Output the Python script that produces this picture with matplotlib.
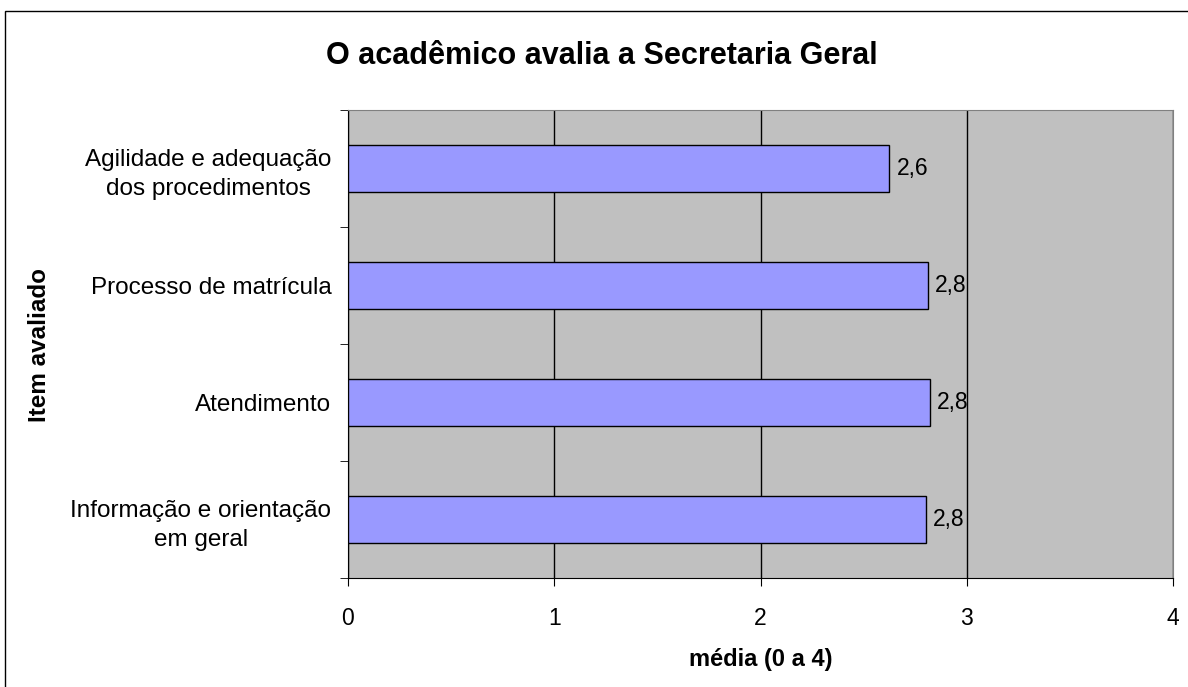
import matplotlib; matplotlib.use("Agg")
import matplotlib.pyplot as plt
from matplotlib.patches import Rectangle

plt.rcParams["font.family"] = ["Liberation Sans", "DejaVu Sans"]

items = ["Informação e orientação\nem geral", "Atendimento",
         "Processo de matrícula", "Agilidade e adequação\ndos procedimentos"]
values = [2.80, 2.82, 2.81, 2.625]
labels = ["2,8", "2,8", "2,8", "2,6"]
xticks = [0, 1, 2, 3, 4]

W, H = 1188, 687
fig = plt.figure(figsize=(W / 100, H / 100), dpi=100)
ax = fig.add_axes([348 / W, 1 - 578 / H, (1173 - 348) / W, (578 - 110) / H])
ax.set_facecolor("#C0C0C0")

# outer chart frame (only left/top edges fall inside the picture)
fig.patches.append(Rectangle((5 / W, -0.05), 1.2, 1 - 11 / H + 0.05,
                             transform=fig.transFigure, fill=False,
                             edgecolor="black", lw=1.0))

ypos = list(range(len(items)))
ax.barh(ypos, values, height=0.4, color="#9999FF", edgecolor="black", lw=1.0, zorder=3)
for y, v, t in zip(ypos, values, labels):
    ax.text(v + 0.035, y, t, va="center", ha="left", fontsize=16.5, zorder=4)

ax.set_xlim(0, 4)
ax.set_ylim(-0.5, len(items) - 0.5)
ax.set_xticks(xticks)
ax.set_xticklabels([str(x) for x in xticks], fontsize=16.5)
ax.tick_params(axis="x", length=6, pad=15, color="black")
ax.xaxis.grid(True, color="black", lw=1.0, zorder=1)
ax.set_axisbelow(True)

ax.set_yticks(ypos)
ax.set_yticklabels(items, fontsize=17.5, ha="right", multialignment="center", linespacing=1.4)
ax.tick_params(axis="y", length=0, pad=12)
ax.set_yticks([y - 0.5 for y in range(len(items) + 1)], minor=True)
ax.tick_params(axis="y", which="minor", length=6, color="black")

for s in ["top", "right"]:
    ax.spines[s].set_color("#808080")
for s in ["left", "bottom"]:
    ax.spines[s].set_color("black")

ax.set_xlabel("média (0 a 4)", fontsize=17, fontweight="bold", labelpad=13)
fig.text(39 / W, 1 - 345 / H, "Item avaliado", rotation=90, ha="center", va="center",
         fontsize=17.5, fontweight="bold")
fig.text(602 / W, 1 - 56 / H, "O acadêmico avalia a Secretaria Geral", ha="center", va="center",
         fontsize=22, fontweight="bold")

fig.savefig("out.png", dpi=100)
